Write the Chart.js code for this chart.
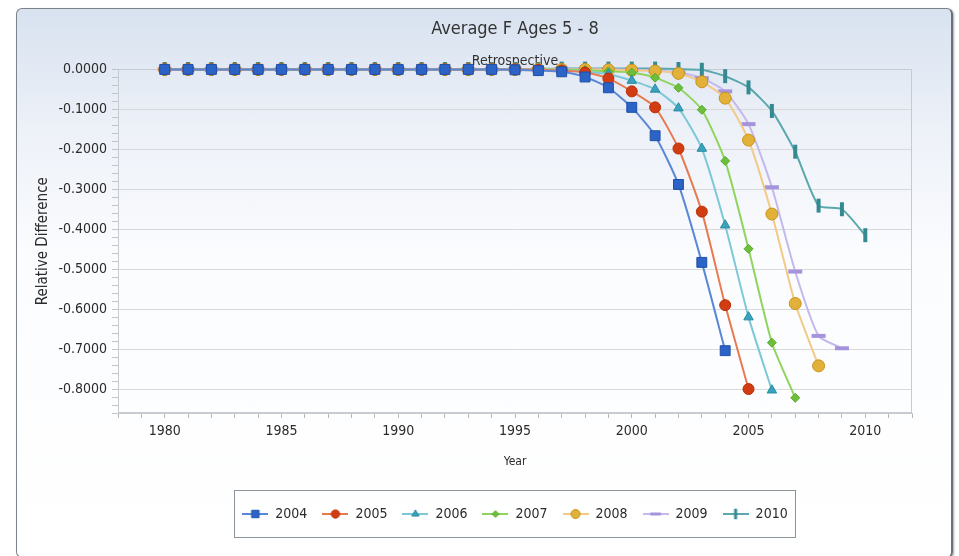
<!DOCTYPE html>
<html>
<head>
<meta charset="utf-8">
<title>Average F Ages 5 - 8</title>
<script src="https://cdn.jsdelivr.net/npm/chart.js@4.4.1/dist/chart.umd.min.js"></script>
<style>
  html, body { margin: 0; padding: 0; background: #fff; }
  #wrap { position: relative; width: 959px; height: 556px; overflow: hidden; }
  #panel {
    position: absolute; left: 16px; top: 8px; width: 934px; height: 548px;
    border: 1px solid #7d838b; border-right: 2px solid #6a7078; border-radius: 6px;
    background: linear-gradient(to bottom, #d8e2f0 0%, #edf1f8 22%, #fbfcfe 45%, #ffffff 100%);
    box-shadow: 1px 1px 2px rgba(0, 0, 0, 0.35);
  }
  #chart { position: absolute; left: 0; top: 0; }
</style>
</head>
<body>
<div id="wrap">
  <div id="panel"></div>
  <canvas id="chart" width="959" height="556"></canvas>
</div>
<script>
// Years on the x axis
const years = [1980, 1981, 1982, 1983, 1984, 1985, 1986, 1987, 1988, 1989,
               1990, 1991, 1992, 1993, 1994, 1995, 1996, 1997, 1998, 1999,
               2000, 2001, 2002, 2003, 2004, 2005, 2006, 2007, 2008, 2009, 2010];

// Retrospective relative difference, one array per terminal year (starting 1980)
const r2004 = [0, 0, 0, 0, 0, 0, 0, 0, 0, 0, 0, 0, 0, 0, 0, -0.001, -0.003, -0.006,
               -0.019, -0.046, -0.095, -0.166, -0.288, -0.483, -0.704];
const r2005 = [0, 0, 0, 0, 0, 0, 0, 0, 0, 0, 0, 0, 0, 0, 0, 0, -0.001, -0.003,
               -0.008, -0.023, -0.055, -0.095, -0.198, -0.356, -0.590, -0.800];
const r2006 = [0, 0, 0, 0, 0, 0, 0, 0, 0, 0, 0, 0, 0, 0, 0, 0, 0, -0.002,
               -0.005, -0.012, -0.028, -0.050, -0.097, -0.198, -0.390, -0.620, -0.803];
const r2007 = [0, 0, 0, 0, 0, 0, 0, 0, 0, 0, 0, 0, 0, 0, 0, 0, 0, 0,
               -0.002, -0.005, -0.008, -0.021, -0.046, -0.101, -0.229, -0.449, -0.684, -0.822];
const r2008 = [0, 0, 0, 0, 0, 0, 0, 0, 0, 0, 0, 0, 0, 0, 0, 0, 0, 0,
               0, -0.001, -0.002, -0.004, -0.010, -0.031, -0.072, -0.177, -0.362, -0.586, -0.742];
const r2009 = [0, 0, 0, 0, 0, 0, 0, 0, 0, 0, 0, 0, 0, 0, 0, 0, 0, 0,
               0, 0, -0.001, -0.003, -0.008, -0.022, -0.055, -0.137, -0.295, -0.506, -0.667, -0.698];
const r2010 = [0.001, 0.001, 0.001, 0.001, 0.001, 0.001, 0.001, 0.001, 0.001, 0.001,
               0.001, 0.001, 0.001, 0.001, 0.001, 0.001, 0.001, 0.002, 0.002, 0.002,
               0.002, 0.002, 0.001, -0.001, -0.017, -0.045, -0.104, -0.206, -0.341, -0.350, -0.415];

const seriesNames = ['2004', '2005', '2006', '2007', '2008', '2009', '2010'];
const seriesValues = [r2004, r2005, r2006, r2007, r2008, r2009, r2010];

// marker / line look for each series
const looks = [
  { line: '#5a87d6', fill: '#2b63c6', edge: '#1f4fa8', shape: 'rect', r: 7, bw: 1, rot: 0 },
  { line: '#e87a52', fill: '#d23c12', edge: '#b83008', shape: 'circle', r: 5.5, bw: 1, rot: 0 },
  { line: '#7cc8d8', fill: '#37a3bd', edge: '#2a8aa0', shape: 'triangle', r: 5.5, bw: 1, rot: 0 },
  { line: '#8fd45f', fill: '#6cbf3a', edge: '#58a82b', shape: 'rectRot', r: 4.5, bw: 1, rot: 0 },
  { line: '#f3c987', fill: '#e2b13a', edge: '#c8921a', shape: 'circle', r: 6, bw: 1, rot: 0 },
  { line: '#c5b8ec', fill: '#a593dc', edge: '#a593dc', shape: 'line', r: 7, bw: 4, rot: 0 },
  { line: '#5aa8ad', fill: '#3f9ba3', edge: '#358a91', shape: 'line', r: 7, bw: 4, rot: 90 }
];

const font = "'Liberation Sans Narrow', 'Arial Narrow', 'DejaVu Sans Condensed', sans-serif";
Chart.defaults.font.family = font;
Chart.defaults.color = '#2b2b2b';

// small line+marker picture for each legend entry
function legendIcon(lk) {
  const c = document.createElement('canvas');
  c.width = 26;
  c.height = 14;
  const g = c.getContext('2d');
  g.strokeStyle = lk.line;
  g.lineWidth = 2;
  g.beginPath();
  g.moveTo(0, 7);
  g.lineTo(26, 7);
  g.stroke();
  g.fillStyle = lk.fill;
  g.strokeStyle = lk.edge;
  const bw = lk.shape === 'line' ? 3 : lk.bw;
  g.lineWidth = bw;
  Chart.helpers.drawPoint(g, { pointStyle: lk.shape, radius: lk.r * 0.75, borderWidth: bw, rotation: lk.rot }, 13, 7);
  return c;
}
const icons = looks.map(legendIcon);

const datasets = seriesNames.map((name, i) => ({
  label: name,
  data: seriesValues[i].map((v, j) => ({ x: years[j], y: v })),
  borderColor: looks[i].line,
  borderWidth: 2,
  backgroundColor: looks[i].fill,
  pointBackgroundColor: looks[i].fill,
  pointBorderColor: looks[i].edge,
  pointBorderWidth: looks[i].bw,
  pointStyle: looks[i].shape,
  pointRadius: looks[i].r,
  pointRotation: looks[i].rot,
  tension: 0.2,
  clip: false
}));

const isMajor = v => Math.abs(v * 10 - Math.round(v * 10)) < 1e-6;

// plot frame and the box round the legend
const framePlugin = {
  id: 'frame',
  beforeDatasetsDraw(chart) {
    const { ctx, chartArea: a } = chart;
    ctx.save();
    ctx.strokeStyle = '#c6cbd2';
    ctx.lineWidth = 1;
    ctx.strokeRect(Math.round(a.left) + 0.5, Math.round(a.top) + 0.5, Math.round(a.width) - 1, Math.round(a.height) - 1);
    ctx.restore();
  },
  afterDraw(chart) {
    const hb = chart.legend.legendHitBoxes;
    if (!hb || !hb.length) return;
    const first = hb[0];
    const last = hb[hb.length - 1];
    const ctx = chart.ctx;
    ctx.save();
    ctx.strokeStyle = '#8e949b';
    ctx.lineWidth = 1;
    const x0 = Math.round(first.left - 8) + 0.5;
    const x1 = Math.round(last.left + last.width + 7) + 0.5;
    const y0 = Math.round(first.top + first.height / 2 - 24) + 0.5;
    ctx.strokeRect(x0, y0, x1 - x0, 47);
    ctx.restore();
  }
};

new Chart(document.getElementById('chart').getContext('2d'), {
  type: 'line',
  data: { datasets },
  plugins: [framePlugin],
  options: {
    responsive: false,
    animation: false,
    layout: { padding: { left: 32, right: 47, top: 0, bottom: 25 } },
    plugins: {
      title: {
        display: true,
        text: 'Average F Ages 5 - 8',
        fullSize: false,
        color: '#333',
        font: { size: 18, weight: 'normal' },
        padding: { top: 19, bottom: 12 }
      },
      subtitle: {
        display: true,
        text: 'Retrospective',
        fullSize: false,
        color: '#333',
        font: { size: 14 },
        padding: { top: 0, bottom: 0 }
      },
      legend: {
        position: 'bottom',
        fullSize: false,
        labels: {
          usePointStyle: true,
          pointStyleWidth: 26,
          padding: 15,
          color: '#2b2b2b',
          font: { size: 14 },
          generateLabels: chart => Chart.defaults.plugins.legend.labels.generateLabels(chart)
            .map((l, i) => Object.assign(l, { pointStyle: icons[i], rotation: 0 }))
        }
      },
      tooltip: { enabled: false }
    },
    scales: {
      x: {
        type: 'linear',
        min: 1978,
        max: 2012,
        afterFit: s => { s.height = 79; },
        ticks: {
          stepSize: 1,
          autoSkip: false,
          maxRotation: 0,
          padding: 5,
          color: '#2b2b2b',
          font: { size: 14 },
          callback: v => (v % 5 === 0 && v >= 1980 && v <= 2010) ? String(v) : ''
        },
        grid: { drawOnChartArea: false, tickLength: 5, tickColor: '#b8b8b8' },
        border: { color: '#c6cbd2' },
        title: {
          display: true,
          text: 'Year',
          color: '#2b2b2b',
          font: { size: 12 },
          padding: { top: 0, bottom: 23 }
        }
      },
      y: {
        min: -0.86,
        max: 0,
        afterFit: s => { s.width = 86; },
        ticks: {
          stepSize: 0.02,
          autoSkip: false,
          padding: 5,
          color: '#2b2b2b',
          font: { size: 14 },
          callback: v => isMajor(v) ? (Math.abs(v) < 1e-9 ? '0.0000' : v.toFixed(4)) : ''
        },
        grid: {
          color: c => (c.tick && isMajor(c.tick.value)) ? '#d9d9d9' : 'rgba(0,0,0,0)',
          tickColor: '#c4c4c4',
          tickLength: 6
        },
        border: { color: '#c6cbd2' },
        title: {
          display: true,
          text: 'Relative Difference',
          color: '#2b2b2b',
          font: { size: 15 },
          padding: { top: 2, bottom: 0 }
        }
      }
    }
  }
});
</script>
</body>
</html>
